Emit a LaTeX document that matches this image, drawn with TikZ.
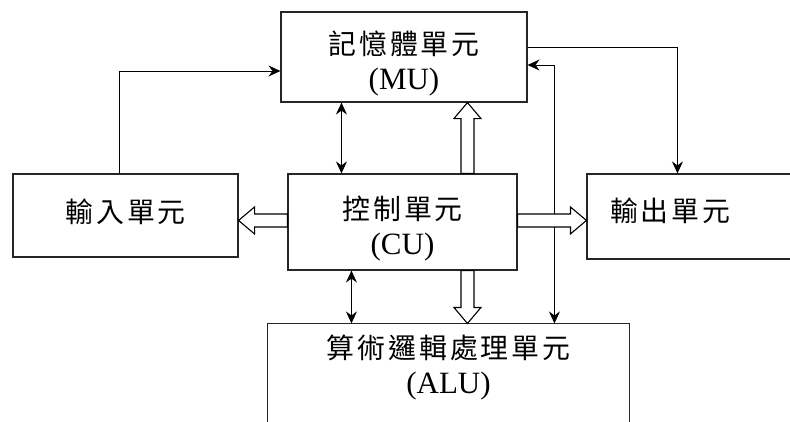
\documentclass[tikz,border=0pt]{standalone}
\usepackage{fontspec}
\setmainfont{Liberation Serif}
\newfontfamily\cjk[LetterSpace=11,Scale=0.9]{Noto Sans CJK TC}
\usepackage{tikz}
\usetikzlibrary{positioning,calc,arrows.meta}

\tikzset{
  >={Stealth[length=12pt,width=11pt,inset=4pt]},
  unit/.style={draw=black!85, line width=1.1pt, fill=white, inner sep=0pt, align=center, font=\fontsize{31}{35}\selectfont},
  link/.style={line width=1pt},
  fat/.style={draw=black, line width=1.1pt, fill=white, to path={
    ($(\tikztotarget)!16pt!(\tikztostart)$) coordinate (FH)
    ($(\tikztostart)!6.5pt!90:(\tikztotarget)$) -- ($(FH)!6.5pt!90:(\tikztotarget)$)
    -- ($(FH)!13.5pt!90:(\tikztotarget)$) -- (\tikztotarget)
    -- ($(FH)!13.5pt!-90:(\tikztotarget)$) -- ($(FH)!6.5pt!-90:(\tikztotarget)$)
    -- ($(\tikztostart)!6.5pt!-90:(\tikztotarget)$) -- cycle}}
}

\begin{document}
\begin{tikzpicture}[x=1pt, y=-1pt]
      \useasboundingbox (0,0) rectangle (790,421);
      \clip (0,0) rectangle (790,421);

      \node [unit, minimum width=246pt, minimum height=90pt] (MU) at (404,57) {\rule{0pt}{36pt}{\cjk 記憶體單元}\\(MU)};
      \node [unit, minimum width=225pt, minimum height=83pt, text depth=9pt] (InU) at (125.5,215.5) {\cjk 輸入單元};
      \node [unit, minimum width=229pt, minimum height=96pt] (CU) at (402.5,222) {\rule{0pt}{36pt}{\cjk 控制單元}\\(CU)};
      \node [unit, minimum width=213pt, minimum height=85pt, text depth=14pt, text width=167pt, align=left] (OutU) at (693.5,216.5) {\cjk 輸出單元};
      \node [unit, draw=none, minimum width=361pt, minimum height=87pt] (ALU) at (448.5,367.5) {{\cjk 算術邏輯處理單元}\\(ALU)};
      \draw [draw=black!85, line width=1.1pt] (ALU.south west) ++(0,40) |- (ALU.north east) -- ++(0,130);

      \draw [link, ->] ($(InU.north)+(-6.5,0)$) |- ($(MU.west)+(0,14)$);
      \draw [link, ->] ($(MU.east)+(0,-10)$) -| ($(OutU.north west)+(91,0)$);
      \draw [link, <->] ($(ALU.north west)+(287,0)$) |- ($(MU.east)+(0,8)$);
      \draw [link, <->] ($(MU.south west)+(61,0)$) -- ($(CU.north west)+(54,0)$);
      \draw [link, <->] ($(CU.south west)+(64,0)$) -- ($(ALU.north west)+(84,0)$);

      \draw [fat] ($(CU.north west)+(180,0)$) to ($(MU.south west)+(187,0)$);
      \draw [fat] ($(CU.south west)+(180,0)$) to ($(ALU.north west)+(200,0)$);
      \draw [fat] ($(CU.north west)+(0,47)$) to ($(InU.north east)+(0,47)$);
      \draw [fat] ($(CU.north east)+(0,47)$) to ($(OutU.north west)+(0,47)$);
    \end{tikzpicture}
\end{document}
